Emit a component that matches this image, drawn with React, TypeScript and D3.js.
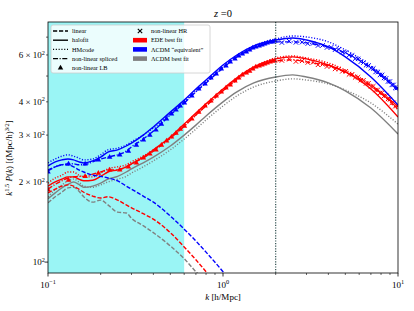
import * as d3 from "d3";

// ─── Data ────────────────────────────────────────────────────────────────────

const kGrid = [0.1, 0.11, 0.12, 0.13, 0.14, 0.15, 0.16, 0.18, 0.2, 0.22, 0.25, 0.28, 0.3, 0.35, 0.4, 0.5, 0.6, 0.7, 0.8, 1.0, 1.2, 1.5, 2, 2.5, 3, 4, 5, 7, 10];
const kLin = [0.1, 0.11, 0.12, 0.13, 0.14, 0.15, 0.16, 0.18, 0.2, 0.22, 0.25, 0.28, 0.3, 0.35, 0.4, 0.5, 0.6, 0.7, 0.8, 1.0, 1.2, 1.5];

const blueLinear = [222, 228, 232, 232, 228, 222, 218, 212, 210, 207, 202, 193, 188, 177, 168, 149, 133, 120, 109, 92, 79, 67];
const blueHalofit = [230, 238, 242, 244, 242, 238, 236, 240, 248, 259, 264, 273, 280, 300, 322, 366, 406, 447, 483, 550, 600, 649, 683, 695, 683, 643, 590, 496, 389];
const blueHMcode = [236, 244, 250, 253, 250, 246, 242, 244, 253, 264, 268, 275, 283, 300, 319, 360, 400, 440, 475, 541, 595, 649, 689, 707, 701, 672, 627, 546, 451];
const blueSpliced = [220, 228, 232, 234, 234, 232, 232, 238, 244, 248, 253, 261, 271, 290, 311, 357, 396, 436, 471, 536, 590, 638, 672, 672, 666, 643, 611, 536, 443];

const redLinear = [182, 188, 193, 195, 193, 188, 183, 177, 174, 176, 171, 164, 160, 152, 145, 129, 114, 102, 92, 77, 67, 56];
const redHalofit = [193, 200, 205, 209, 209, 205, 202, 203, 210, 218, 222, 228, 234, 248, 264, 295, 330, 363, 393, 447, 492, 541, 580, 590, 580, 550, 518, 447, 351];
const redHMcode = [198, 207, 212, 218, 218, 212, 209, 209, 216, 224, 228, 232, 238, 250, 264, 292, 324, 357, 386, 440, 483, 536, 585, 595, 585, 560, 527, 463, 373];
const redSpliced = [188, 196, 202, 207, 209, 210, 210, 214, 218, 222, 222, 228, 234, 246, 261, 292, 324, 357, 386, 440, 488, 536, 570, 575, 565, 546, 518, 459, 383];

const grayLinear = [167, 176, 183, 190, 191, 185, 176, 168, 171, 164, 154, 153, 146, 137, 129, 115, 103, 92, 84, 72, 62, 52];
const grayHalofit = [173, 182, 190, 196, 200, 196, 191, 193, 198, 205, 210, 218, 224, 236, 248, 273, 300, 327, 354, 400, 436, 471, 496, 505, 496, 471, 440, 379, 303];
const grayHMcode = [176, 187, 195, 202, 205, 200, 193, 191, 195, 200, 205, 210, 216, 228, 240, 264, 290, 316, 342, 386, 421, 455, 479, 488, 483, 467, 443, 396, 330];

// low-resolution sims (triangles), k < 2
const lbK = [0.100, 0.131, 0.163, 0.194, 0.225, 0.257, 0.288, 0.320, 0.351, 0.382, 0.414, 0.445, 0.476, 0.508, 0.539, 0.570, 0.602, 0.664, 0.727, 0.790, 0.853, 0.915, 0.978, 1.04, 1.10, 1.17, 1.23, 1.29, 1.36, 1.42, 1.48, 1.54, 1.61, 1.67, 1.73, 1.79, 1.86, 1.92, 1.98];
const blueLB = [218, 234, 234, 242, 248, 253, 261, 275, 288, 300, 314, 330, 345, 360, 373, 386, 396, 421, 447, 467, 492, 509, 532, 546, 565, 580, 595, 605, 616, 627, 638, 643, 649, 654, 660, 666, 672, 672, 677];
const redLB = [187, 203, 210, 216, 222, 222, 228, 236, 246, 255, 264, 275, 285, 295, 305, 316, 324, 345, 366, 386, 403, 421, 436, 451, 463, 479, 492, 505, 514, 522, 532, 541, 546, 550, 555, 560, 565, 570, 570];

// high-resolution sims (crosses), k > 2
const hrK = [2.17, 2.39, 2.61, 2.83, 3.05, 3.27, 3.49, 3.71, 3.93, 4.15, 4.37, 4.59, 4.81, 5.03, 5.25, 5.47, 5.69, 5.91, 6.13, 6.35, 6.57, 6.79, 7.01, 7.23, 7.45, 7.67, 7.89, 8.11, 8.33, 8.55, 8.77, 8.99, 9.21, 9.43, 9.65, 9.87];
const blueHR = [668, 676, 669, 670, 662, 663, 651, 652, 640, 641, 628, 630, 615, 613, 599, 597, 581, 580, 566, 562, 549, 548, 535, 534, 518, 518, 505, 505, 492, 490, 477, 477, 463, 463, 451, 451];
const redHR = [572, 578, 567, 570, 562, 563, 551, 553, 543, 544, 532, 532, 521, 521, 507, 508, 494, 495, 482, 482, 469, 470, 457, 458, 443, 444, 432, 433, 421, 422, 410, 409, 396, 397, 385, 387];

const shadeRange = [0.1, 0.6];
const kSplit = 2;
const yTickLabels: Record<number, string> = { 100: "", 200: "2", 300: "3", 400: "4", 600: "6" };
const xTickLabels: Record<number, string> = { 0.1: "\u22121", 1: "0", 10: "1" };

// ─── Layout ──────────────────────────────────────────────────────────────────

const W = 414, H = 311;
const X0 = 48, X1 = 398, Y0 = 22, Y1 = 273;
const FONT = "'Liberation Serif', 'DejaVu Serif', serif";

const BLUE = "#0000ff", RED = "#ff0000", GRAY = "#808080";
const DASH = "4.2 1.8", DOT = "1.1 1.7", DASHDOT = "5 1.6 1.1 1.6";
const LW = 1.4;

const x = d3.scaleLog().domain([0.1, 10]).range([X0, X1]);
const y = d3.scaleLog().domain([91, 798]).range([Y1, Y0]);

function linePath(ks: number[], vs: number[]) {
  return d3.line<number>()
    .x((_, i) => x(ks[i]))
    .y((v) => y(v))
    .curve(d3.curveMonotoneX)(vs) ?? "";
}

const triPath = d3.symbol(d3.symbolTriangle, 13)() ?? "";
const crossPath = "M-2.2,-2.2L2.2,2.2M-2.2,2.2L2.2,-2.2";

const series = [
  { color: GRAY, linear: grayLinear, halofit: grayHalofit, hm: grayHMcode, spliced: null, lb: null, hr: null },
  { color: RED, linear: redLinear, halofit: redHalofit, hm: redHMcode, spliced: redSpliced, lb: redLB, hr: redHR },
  { color: BLUE, linear: blueLinear, halofit: blueHalofit, hm: blueHMcode, spliced: blueSpliced, lb: blueLB, hr: blueHR },
];

export default function App() {
  const xTicks = x.ticks();
  const yTicks = y.ticks().filter((v) => v >= 91 && v <= 798);
  const rowY = [31, 40.2, 49.4, 58.6, 67.8];

  return (
    <svg width={W} height={H} style={{ position: "absolute", left: 0, top: 0 }} fontFamily={FONT}>
      <rect width={W} height={H} fill="white" />
      <defs>
        <clipPath id="plot">
          <rect x={X0} y={Y0} width={X1 - X0} height={Y1 - Y0} />
        </clipPath>
      </defs>

      {/* shaded region */}
      <rect x={x(shadeRange[0])} y={Y0} width={x(shadeRange[1]) - x(shadeRange[0])} height={Y1 - Y0} fill="#9af5f5" />

      <g clipPath="url(#plot)" fill="none" strokeWidth={LW}>
        {series.map((s) => (
          <g key={s.color} stroke={s.color}>
            <path d={linePath(kLin, s.linear)} strokeDasharray={DASH} />
            <path d={linePath(kGrid, s.halofit)} />
            <path d={linePath(kGrid, s.hm)} strokeDasharray={DOT} />
            {s.spliced && <path d={linePath(kGrid, s.spliced)} strokeDasharray={DASHDOT} />}
            {s.lb && s.lb.map((v, i) => (
              <path key={"t" + i} d={triPath} transform={`translate(${x(lbK[i])},${y(v)})`} fill={s.color} stroke="none" />
            ))}
            {s.hr && s.hr.map((v, i) => (
              <path key={"x" + i} d={crossPath} transform={`translate(${x(hrK[i])},${y(v)})`} strokeWidth={1} />
            ))}
          </g>
        ))}
      </g>

      {/* split line */}
      <line x1={x(kSplit)} x2={x(kSplit)} y1={Y0} y2={Y1} stroke="#2f4f4f" strokeWidth={1.2} strokeDasharray="1.2 1.4" />

      {/* legend */}
      <g fontSize={6.3}>
        <rect x={51} y={25} width={159} height={48} rx={2} fill="white" fillOpacity={0.8} stroke="#cccccc" strokeWidth={0.8} />
        <line x1={53} x2={68} y1={rowY[0]} y2={rowY[0]} stroke="black" strokeWidth={LW} strokeDasharray={DASH} />
        <line x1={53} x2={68} y1={rowY[1]} y2={rowY[1]} stroke="black" strokeWidth={LW} />
        <line x1={53} x2={68} y1={rowY[2]} y2={rowY[2]} stroke="black" strokeWidth={LW} strokeDasharray={DOT} />
        <line x1={53} x2={68} y1={rowY[3]} y2={rowY[3]} stroke="black" strokeWidth={LW} strokeDasharray={DASHDOT} />
        <path d={triPath} transform={`translate(60.5,${rowY[4]})`} fill="black" />
        {["linear", "halofit", "HMcode", "non-linear spliced", "non-linear LB"].map((t, i) => (
          <text key={t} x={72} y={rowY[i] + 2.2}>{t}</text>
        ))}
        <path d={crossPath} transform={`translate(140,${rowY[0]})`} stroke="black" strokeWidth={1.1} fill="none" />
        {[RED, BLUE, GRAY].map((c, i) => (
          <rect key={c} x={133} y={rowY[i + 1] - 2.3} width={14} height={4.6} fill={c} />
        ))}
        {["non-linear HR", "EDE best fit", "\u039BCDM \u201Cequivalent\u201D", "\u039BCDM best fit"].map((t, i) => (
          <text key={t} x={151} y={rowY[i] + 2.2}>{t}</text>
        ))}
      </g>

      {/* axes */}
      <rect x={X0} y={Y0} width={X1 - X0} height={Y1 - Y0} fill="none" stroke="black" strokeWidth={0.8} />
      {xTicks.map((k) => {
        const major = Math.abs(Math.log10(k) - Math.round(Math.log10(k))) < 1e-6;
        return <line key={"xt" + k} x1={x(k)} x2={x(k)} y1={Y1} y2={Y1 + (major ? 3.5 : 2)} stroke="black" strokeWidth={major ? 0.8 : 0.6} />;
      })}
      {xTicks.filter((k) => xTickLabels[k] !== undefined).map((k) => (
        <text key={"xl" + k} x={x(k)} y={288} fontSize={9} textAnchor="middle">
          10<tspan dy={-3.6} fontSize={6.3}>{xTickLabels[k]}</tspan>
        </text>
      ))}
      {yTicks.map((v) => {
        const major = v === 100;
        return <line key={"yt" + v} x1={X0 - (major ? 3.5 : 2)} x2={X0} y1={y(v)} y2={y(v)} stroke="black" strokeWidth={major ? 0.8 : 0.6} />;
      })}
      {yTicks.filter((v) => yTickLabels[v] !== undefined).map((v) => (
        <text key={"yl" + v} x={45} y={y(v) + 3.2} fontSize={9} textAnchor="end">
          {yTickLabels[v] ? `${yTickLabels[v]} \u00D7 10` : "10"}<tspan dy={-3.6} fontSize={6.3}>2</tspan>
        </text>
      ))}

      <text x={(X0 + X1) / 2} y={300} fontSize={9} textAnchor="middle">
        <tspan fontStyle="italic">k</tspan> [h/Mpc]
      </text>
      <text transform={`translate(12,158) rotate(-90)`} fontSize={9} textAnchor="middle">
        <tspan fontStyle="italic">k</tspan><tspan dy={-3.4} fontSize={6.3}>1.5</tspan>
        <tspan dy={3.4}> </tspan><tspan fontStyle="italic">P</tspan>(<tspan fontStyle="italic">k</tspan>) [(Mpc/h)<tspan dy={-3.4} fontSize={6.3}>3/2</tspan><tspan dy={3.4}>]</tspan>
      </text>
      <text x={(X0 + X1) / 2} y={17} fontSize={10.5} textAnchor="middle">
        <tspan fontStyle="italic">z</tspan> =0
      </text>
    </svg>
  );
}
